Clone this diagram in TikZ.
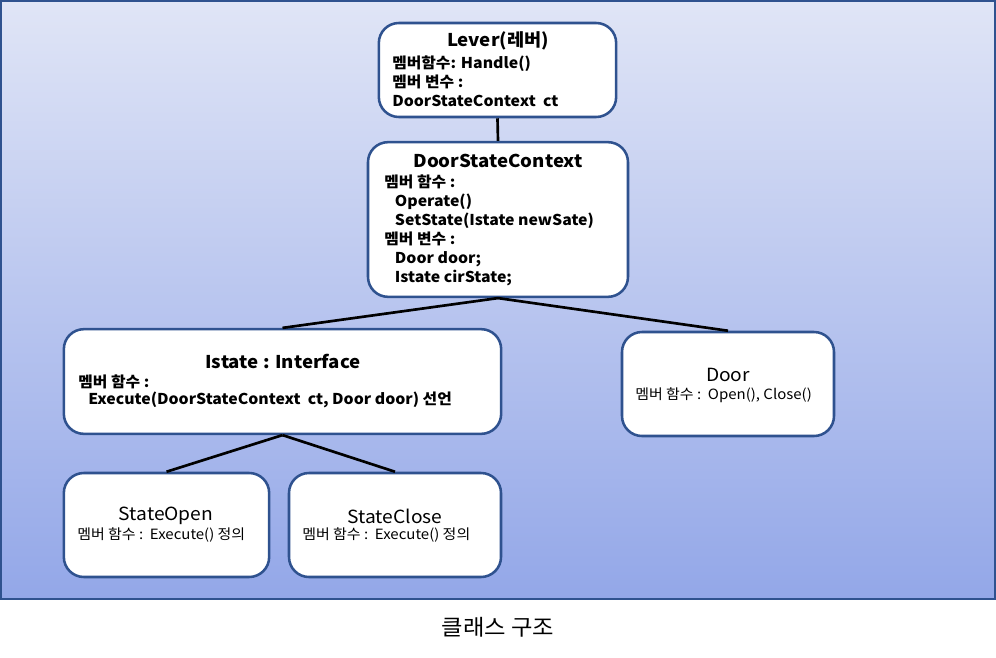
\documentclass[tikz,border=0pt]{standalone}
\usepackage{fontspec}
\setmainfont[FakeStretch=1.06]{Noto Sans CJK KR}
\usetikzlibrary{positioning}
\definecolor{boxline}{RGB}{47,82,143}
\definecolor{bgtop}{RGB}{224,229,246}
\definecolor{bgbottom}{RGB}{147,167,232}

\tikzset{
  cls/.style={draw=boxline,line width=1.9pt,fill=white,rounded corners=15pt,inner sep=0pt},
  title/.style={inner sep=0pt,font=\bfseries\fontsize{13.2}{15}\selectfont},
  ptitle/.style={inner sep=0pt,font=\fontsize{13.6}{15}\selectfont},
  body/.style={inner sep=0pt,anchor=west,align=left,font=\bfseries\fontsize{11.2}{14.25}\selectfont},
  pbody/.style={inner sep=0pt,anchor=west,align=left,font=\fontsize{10.6}{12}\selectfont},
  link/.style={line width=2pt}
}

\begin{document}
\begin{tikzpicture}[x=0.75pt,y=-0.75pt]
\useasboundingbox (0,0) rectangle (996,657);
% background
\shade[top color=bgtop,bottom color=bgbottom] (0,0) rectangle (995,599);
\draw[boxline,line width=1.5pt] (0.8,0.8) rectangle (995,599);

% boxes
\node[cls,minimum width=178pt,minimum height=70.5pt] (lever) at (497.5,70) {};
\node[cls,minimum width=195pt,minimum height=116pt] (dsc) at (498,219.5) {};
\node[cls,minimum width=328pt,minimum height=78.5pt] (istate) at (282.5,381.5) {};
\node[cls,minimum width=159pt,minimum height=78pt] (door) at (728,384) {};
\node[cls,minimum width=154pt,minimum height=78pt] (sopen) at (166.5,525) {};
\node[cls,minimum width=159pt,minimum height=78pt] (sclose) at (395,525) {};

% lines
\draw[link] (lever.south) -- (dsc.north);
\draw[link] (dsc.south) -- (istate.north);
\draw[link] (dsc.south) -- (door.north);
\draw[link] (istate.south) -- (sopen.north);
\draw[link] (istate.south) -- (sclose.north);

% texts
\node[title] (levert) at (498,41) {Lever(레버)};
\node[body] (leverb) at (392,81) {멤버함수: Handle()\\멤버 변수 :\\DoorStateContext\ \ ct};

\node[title] (dsct) at (498,161) {DoorStateContext};
\node[body] (dscb) at (384,230.5) {멤버 함수 :\\\hspace*{8pt}Operate()\\\hspace*{8pt}SetState(Istate newSate)\\멤버 변수 :\\\hspace*{8pt}Door door;\\\hspace*{8pt}Istate cirState;};

\node[title] (istatet) at (283,361) {Istate : Interface};
\node[body,font=\bfseries\fontsize{11.2}{12.75}\selectfont] (istateb) at (78,391.5) {멤버 함수 :\\\hspace*{7.5pt}Execute(DoorStateContext\ \ ct, Door door) 선언};

\node[ptitle] (doort) at (728,375) {Door};
\node[pbody] (doorb) at (635,395) {멤버 함수 :\ \ Open(), Close()};

\node[ptitle] (sopent) at (166,516) {StateOpen};
\node[pbody] (sopenb) at (77,535) {멤버 함수 :\ \ Execute() 정의};

\node[ptitle] (scloset) at (395,516) {StateClose};
\node[pbody] (scloseb) at (302,535) {멤버 함수 :\ \ Execute() 정의};

\node[inner sep=0pt,font=\fontsize{16.5}{18}\selectfont] (caption) at (498,627) {클래스 구조};
\end{tikzpicture}
\end{document}
